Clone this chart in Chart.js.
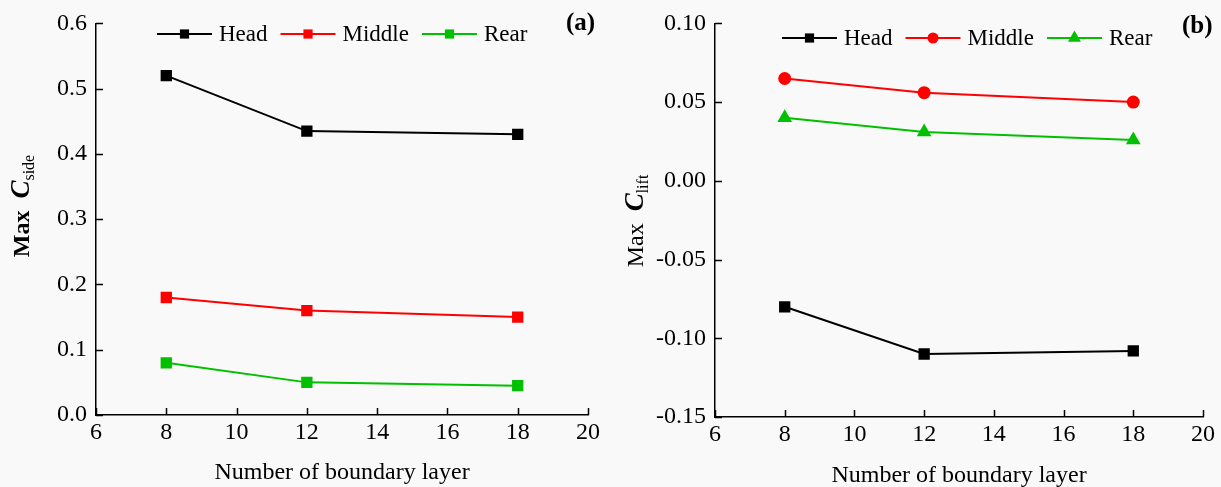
<!DOCTYPE html>
<html>
<head>
<meta charset="utf-8">
<script src="https://cdn.jsdelivr.net/npm/chart.js@4.4.1/dist/chart.umd.min.js"></script>
<style>
  html, body { margin: 0; padding: 0; background: #f9f9f9; }
  #wrap { position: relative; width: 1221px; height: 487px; background: #f9f9f9; }
  .panel { position: absolute; top: 0; height: 487px; }
  #pa { left: 0; width: 610px; }
  #pb { left: 610px; width: 611px; }
</style>
</head>
<body>
<div id="wrap">
  <div class="panel" id="pa"><canvas id="ca"></canvas></div>
  <div class="panel" id="pb"><canvas id="cb"></canvas></div>
</div>
<script>
// ---------- data ----------
const layers = [8, 12, 18];
const seriesNames = ['Head', 'Middle', 'Rear'];

const sideHead   = [0.52, 0.435, 0.43];
const sideMiddle = [0.18, 0.16, 0.15];
const sideRear   = [0.08, 0.05, 0.045];

const liftHead   = [-0.08, -0.110, -0.108];
const liftMiddle = [0.065, 0.056, 0.050];
const liftRear   = [0.040, 0.031, 0.026];

const xTicks = [6, 8, 10, 12, 14, 16, 18, 20];
const xTickLabels = ['6', '8', '10', '12', '14', '16', '18', '20'];
const yTicksA = [0, 0.1, 0.2, 0.3, 0.4, 0.5, 0.6];
const yTickLabelsA = ['0.0', '0.1', '0.2', '0.3', '0.4', '0.5', '0.6'];
const yTicksB = [-0.15, -0.10, -0.05, 0, 0.05, 0.10];
const yTickLabelsB = ['-0.15', '-0.10', '-0.05', '0.00', '0.05', '0.10'];

const xTitle = 'Number of boundary layer';
const panelLabels = ['(a)', '(b)'];

// ---------- styles ----------
const FONT = "'Liberation Serif', 'Times New Roman', serif";
const COLORS = ['#000000', '#ff0000', '#00c000'];

function toPoints(xs, ys) { return xs.map((x, i) => ({ x: x, y: ys[i] })); }

// inward tick marks drawn from the library's scales
const inwardTicks = {
  id: 'inwardTicks',
  afterDraw(chart) {
    const ctx = chart.ctx;
    const { top, bottom, left, right } = chart.chartArea;
    const xs = chart.scales.x, ys = chart.scales.y;
    ctx.save();
    ctx.strokeStyle = '#000';
    ctx.lineWidth = 1.5;
    xs.ticks.forEach(t => {
      const px = Math.round(xs.getPixelForValue(t.value)) + 0.5;
      ctx.beginPath(); ctx.moveTo(px, bottom); ctx.lineTo(px, bottom - 7); ctx.stroke();
    });
    ys.ticks.forEach(t => {
      const py = Math.round(ys.getPixelForValue(t.value)) + 0.5;
      ctx.beginPath(); ctx.moveTo(left, py); ctx.lineTo(left + 7, py); ctx.stroke();
    });
    ctx.restore();
  }
};

// legend with line-marker-line symbols, axis titles with subscripts, panel labels
const decor = {
  id: 'decor',
  afterDraw(chart, args, opts) {
    const ctx = chart.ctx;
    const ca = chart.chartArea;
    ctx.save();
    // legend
    let x = opts.legendX;
    const y = opts.legendY;
    ctx.font = '23px ' + FONT;
    ctx.textBaseline = 'middle';
    ctx.textAlign = 'left';
    chart.data.datasets.forEach((ds, i) => {
      ctx.strokeStyle = ds.borderColor;
      ctx.fillStyle = ds.pointBackgroundColor;
      ctx.lineWidth = 2;
      ctx.beginPath(); ctx.moveTo(x, y); ctx.lineTo(x + 55, y); ctx.stroke();
      Chart.helpers.drawPoint(ctx, { pointStyle: ds.pointStyle, radius: opts.legendRadius[i], rotation: 0, borderWidth: 0 }, x + 27.5, y);
      ctx.fillStyle = '#000';
      ctx.font = '23px ' + FONT;
      ctx.fillText(ds.label, x + 62, y + 1);
      x += 62 + ctx.measureText(ds.label).width + 13;
    });
    // panel label
    ctx.font = 'bold 25px ' + FONT;
    ctx.fillText(opts.panelLabel, opts.panelX, opts.panelY);
    // x title
    ctx.font = '24px ' + FONT;
    ctx.textAlign = 'center';
    ctx.fillText(xTitle, (ca.left + ca.right) / 2, opts.xTitleY);
    // y title (rotated, with subscript)
    ctx.translate(opts.yTitleX, opts.yTitleY);
    ctx.rotate(-Math.PI / 2);
    ctx.textAlign = 'left';
    ctx.textBaseline = 'alphabetic';
    const parts = [
      { t: 'Max', f: (opts.maxBold ? 'bold ' : '') + '24px ' + FONT, dy: 0 },
      { t: '\u2002', f: '24px ' + FONT, dy: 0 },
      { t: 'C', f: 'italic bold 27px ' + FONT, dy: 0 },
      { t: opts.sub, f: '16px ' + FONT, dy: 5 }
    ];
    let total = 0;
    parts.forEach(p => { ctx.font = p.f; p.w = ctx.measureText(p.t).width; total += p.w; });
    let px = -total / 2;
    parts.forEach(p => { ctx.font = p.f; ctx.fillText(p.t, px, p.dy); px += p.w; });
    ctx.restore();
  }
};

function makeChart(canvasId, datasets, yTicks, yLabels, cfg) {
  return new Chart(document.getElementById(canvasId), {
    type: 'line',
    data: { datasets: datasets },
    options: {
      responsive: true,
      maintainAspectRatio: false,
      animation: false,
      events: [],
      layout: { padding: { left: 0, right: cfg.padRight, top: cfg.padTop, bottom: 0 } },
      plugins: {
        legend: { display: false },
        tooltip: { enabled: false },
        decor: cfg.decor
      },
      scales: {
        x: {
          type: 'linear', min: 6, max: 20,
          afterBuildTicks: s => { s.ticks = xTicks.map(v => ({ value: v })); },
          afterFit: s => { s.height = cfg.xHeight; },
          ticks: {
            color: '#000', font: { family: FONT, size: 24 }, padding: 3,
            maxRotation: 0, autoSkip: false,
            callback: (v) => { const i = xTicks.indexOf(v); return i >= 0 ? xTickLabels[i] : ''; }
          },
          grid: { drawOnChartArea: false, drawTicks: false },
          border: { display: true, color: '#000', width: 1.5 }
        },
        y: {
          type: 'linear', min: yTicks[0], max: yTicks[yTicks.length - 1],
          afterBuildTicks: s => { s.ticks = yTicks.map(v => ({ value: v })); },
          afterFit: s => { s.width = cfg.yWidth; },
          ticks: {
            color: '#000', font: { family: FONT, size: 24 }, padding: 9, autoSkip: false,
            callback: (v) => { const i = yTicks.findIndex(t => Math.abs(t - v) < 1e-9); return i >= 0 ? yLabels[i] : ''; }
          },
          grid: { drawOnChartArea: false, drawTicks: false },
          border: { display: true, color: '#000', width: 1.5 }
        }
      }
    },
    plugins: [inwardTicks, decor]
  });
}

function ds(label, xs, ys, color, style, r) {
  return {
    label: label, data: toPoints(xs, ys),
    borderColor: color, backgroundColor: color,
    pointBackgroundColor: color, pointBorderColor: color,
    pointStyle: style, pointRadius: r, pointBorderWidth: 0,
    borderWidth: 2, tension: 0, fill: false
  };
}

makeChart('ca', [
  ds(seriesNames[0], layers, sideHead, COLORS[0], 'rect', 8),
  ds(seriesNames[1], layers, sideMiddle, COLORS[1], 'rect', 8),
  ds(seriesNames[2], layers, sideRear, COLORS[2], 'rect', 8)
], yTicksA, yTickLabelsA, {
  padRight: 22, padTop: 17, xHeight: 72, yWidth: 96,
  decor: {
    legendX: 157, legendY: 34, legendRadius: [6.5, 6.5, 6.5],
    panelLabel: panelLabels[0], panelX: 566, panelY: 24,
    xTitleY: 473, yTitleX: 29, yTitleY: 206, sub: 'side', maxBold: true
  }
});

makeChart('cb', [
  ds(seriesNames[0], layers, liftHead, COLORS[0], 'rect', 8),
  ds(seriesNames[1], layers, liftMiddle, COLORS[1], 'circle', 6.5),
  ds(seriesNames[2], layers, liftRear, COLORS[2], 'triangle', 8.5)
], yTicksB, yTickLabelsB, {
  padRight: 18, padTop: 23, xHeight: 70, yWidth: 105,
  decor: {
    legendX: 172, legendY: 38, legendRadius: [6.5, 5.5, 7.5],
    panelLabel: panelLabels[1], panelX: 572, panelY: 27,
    xTitleY: 476, yTitleX: 33, yTitleY: 221, sub: 'lift', maxBold: false
  }
});
</script>
</body>
</html>
